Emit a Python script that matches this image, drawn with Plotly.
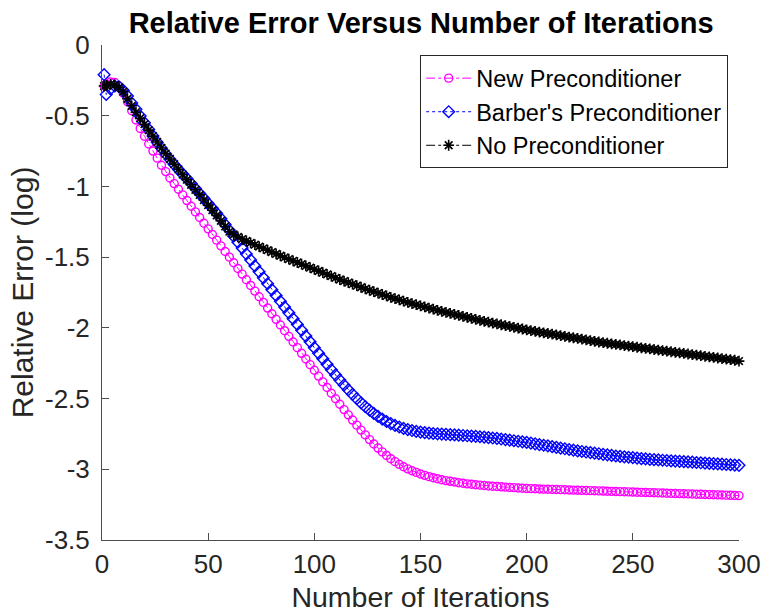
import plotly.graph_objects as go

# Iteration indices (first iterate, then every second one up to 300)
iterations = [1] + list(range(2, 301, 2))

# log10 relative error, new preconditioner
err_new = [
    -0.290, -0.275, -0.262, -0.265, -0.290, -0.340, -0.400, -0.465, -0.530, -0.590,
    -0.645, -0.700, -0.750, -0.800, -0.850, -0.895, -0.940, -0.980, -1.020, -1.060,
    -1.100, -1.140, -1.180, -1.220, -1.260, -1.300, -1.340, -1.380, -1.420, -1.460,
    -1.500, -1.540, -1.580, -1.620, -1.660, -1.700, -1.740, -1.780, -1.820, -1.860,
    -1.900, -1.940, -1.980, -2.020, -2.060, -2.100, -2.140, -2.180, -2.220, -2.260,
    -2.300, -2.341, -2.382, -2.422, -2.462, -2.501, -2.540, -2.578, -2.615, -2.652,
    -2.688, -2.723, -2.757, -2.790, -2.821, -2.850, -2.877, -2.902, -2.925, -2.946,
    -2.965, -2.982, -2.997, -3.010, -3.022, -3.033, -3.043, -3.052, -3.060, -3.067,
    -3.074, -3.080, -3.085, -3.090, -3.095, -3.099, -3.103, -3.106, -3.109, -3.112,
    -3.115, -3.118, -3.120, -3.122, -3.124, -3.126, -3.128, -3.130, -3.132, -3.134,
    -3.136, -3.137, -3.138, -3.139, -3.140, -3.141, -3.142, -3.143, -3.144, -3.145,
    -3.146, -3.147, -3.148, -3.149, -3.150, -3.151, -3.152, -3.153, -3.154, -3.155,
    -3.156, -3.157, -3.158, -3.159, -3.160, -3.161, -3.162, -3.163, -3.164, -3.165,
    -3.166, -3.167, -3.168, -3.169, -3.170, -3.171, -3.172, -3.173, -3.174, -3.175,
    -3.176, -3.177, -3.178, -3.179, -3.180, -3.181, -3.182, -3.183, -3.184, -3.185,
    -3.186,
]

# log10 relative error, Barber's preconditioner
err_barber = [
    -0.210, -0.350, -0.310, -0.290, -0.295, -0.320, -0.360, -0.410, -0.455, -0.502,
    -0.550, -0.597, -0.643, -0.688, -0.730, -0.770, -0.808, -0.845, -0.880, -0.913,
    -0.945, -0.980, -1.015, -1.050, -1.085, -1.120, -1.155, -1.190, -1.228, -1.270,
    -1.310, -1.352, -1.394, -1.436, -1.478, -1.520, -1.562, -1.604, -1.646, -1.688,
    -1.730, -1.771, -1.812, -1.853, -1.894, -1.935, -1.976, -2.017, -2.058, -2.099,
    -2.140, -2.180, -2.219, -2.258, -2.296, -2.333, -2.369, -2.404, -2.438, -2.470,
    -2.501, -2.530, -2.557, -2.582, -2.605, -2.626, -2.645, -2.662, -2.677, -2.690,
    -2.701, -2.711, -2.719, -2.726, -2.732, -2.737, -2.741, -2.744, -2.747, -2.749,
    -2.751, -2.753, -2.755, -2.757, -2.759, -2.761, -2.763, -2.765, -2.767, -2.770,
    -2.773, -2.776, -2.779, -2.782, -2.786, -2.790, -2.794, -2.798, -2.802, -2.806,
    -2.810, -2.815, -2.820, -2.825, -2.830, -2.835, -2.840, -2.845, -2.850, -2.855,
    -2.860, -2.865, -2.870, -2.874, -2.878, -2.882, -2.886, -2.890, -2.894, -2.898,
    -2.902, -2.906, -2.909, -2.912, -2.915, -2.918, -2.921, -2.924, -2.927, -2.930,
    -2.932, -2.934, -2.936, -2.938, -2.940, -2.942, -2.944, -2.946, -2.948, -2.950,
    -2.952, -2.954, -2.956, -2.958, -2.960, -2.962, -2.964, -2.966, -2.968, -2.970,
    -2.972,
]

# log10 relative error, unpreconditioned
err_none = [
    -0.290, -0.285, -0.278, -0.282, -0.300, -0.330, -0.380, -0.430, -0.475, -0.518,
    -0.560, -0.602, -0.644, -0.686, -0.728, -0.768, -0.806, -0.843, -0.880, -0.916,
    -0.952, -0.988, -1.024, -1.060, -1.096, -1.132, -1.168, -1.205, -1.243, -1.283,
    -1.320, -1.340, -1.357, -1.372, -1.386, -1.399, -1.412, -1.425, -1.438, -1.451,
    -1.464, -1.477, -1.490, -1.502, -1.514, -1.526, -1.538, -1.550, -1.562, -1.574,
    -1.586, -1.598, -1.610, -1.622, -1.634, -1.646, -1.658, -1.669, -1.680, -1.691,
    -1.702, -1.713, -1.724, -1.734, -1.744, -1.754, -1.764, -1.774, -1.784, -1.793,
    -1.802, -1.811, -1.820, -1.828, -1.836, -1.844, -1.852, -1.860, -1.868, -1.876,
    -1.884, -1.891, -1.898, -1.905, -1.912, -1.919, -1.926, -1.933, -1.940, -1.947,
    -1.954, -1.960, -1.966, -1.972, -1.978, -1.984, -1.990, -1.996, -2.002, -2.008,
    -2.014, -2.020, -2.025, -2.030, -2.035, -2.040, -2.045, -2.050, -2.055, -2.060,
    -2.065, -2.070, -2.075, -2.080, -2.085, -2.090, -2.095, -2.100, -2.105, -2.109,
    -2.113, -2.117, -2.121, -2.125, -2.129, -2.133, -2.137, -2.141, -2.145, -2.149,
    -2.153, -2.157, -2.161, -2.165, -2.169, -2.173, -2.177, -2.181, -2.185, -2.189,
    -2.193, -2.197, -2.201, -2.205, -2.209, -2.213, -2.217, -2.221, -2.225, -2.229,
    -2.235,
]

series_names = ["New Preconditioner", "Barber's Preconditioner", "No Preconditioner"]
x_ticks = [0, 50, 100, 150, 200, 250, 300]
y_ticks = [-3.5, -3, -2.5, -2, -1.5, -1, -0.5, 0]

FONT = "Liberation Sans, Arial, Helvetica, sans-serif"
TXT = "#262626"

fig = go.Figure()

styles = [
    (err_new, "#ff00ff", "dashdot", "circle-open", 8, 1.4),
    (err_barber, "#0000ff", "dot", "diamond-open", 9, 1.4),
    (err_none, "#000000", "dashdot", "asterisk-open", 9, 1.6),
]
for name, (vals, color, dash, symbol, size, mlw) in zip(series_names, styles):
    fig.add_trace(go.Scatter(
        x=iterations, y=vals, name=name, mode="lines+markers",
        line=dict(color=color, width=1, dash=dash),
        marker=dict(symbol=symbol, size=size, color=color,
                    line=dict(color=color, width=mlw)),
        cliponaxis=False,
    ))

axis_common = dict(
    showline=True, linecolor="#4d4d4d", linewidth=1,
    ticks="inside", ticklen=7, tickcolor="#4d4d4d", tickwidth=1,
    showgrid=False, zeroline=False, mirror=False, automargin=False,
    tickfont=dict(family=FONT, size=26, color=TXT),
)

fig.update_layout(
    width=762, height=613,
    margin=dict(l=102, r=23, t=45, b=73),
    paper_bgcolor="white", plot_bgcolor="white",
    title=dict(
        text="<b>Relative Error Versus Number of Iterations</b>",
        font=dict(family=FONT, size=29, color="#000000"),
        x=0.5527, xanchor="center", y=0.963, yanchor="middle",
    ),
    xaxis=dict(
        range=[0, 300], tickvals=x_ticks, ticktext=[str(v) for v in x_ticks],
        ticklabelstandoff=1,
        title=dict(text="Number of Iterations",
                   font=dict(family=FONT, size=28.5, color=TXT), standoff=8),
        **axis_common,
    ),
    yaxis=dict(
        range=[-3.5, 0], tickvals=y_ticks,
        ticktext=[f"{v:g}" for v in y_ticks],
        ticklabelstandoff=6,
        title=dict(text="Relative Error (log)",
                   font=dict(family=FONT, size=30, color=TXT), standoff=2),
        **axis_common,
    ),
    legend=dict(
        x=0.983, xanchor="right", y=0.979, yanchor="top",
        bgcolor="white", bordercolor="#262626", borderwidth=1,
        font=dict(family=FONT, size=23.5, color="#000000"),
        itemwidth=45, tracegroupgap=0,
    ),
    showlegend=True,
)

fig.write_html("out.html")
